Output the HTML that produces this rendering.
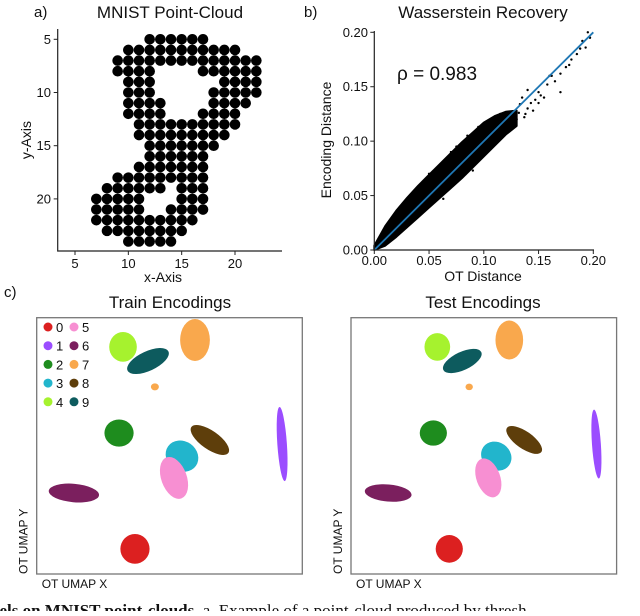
<!DOCTYPE html>
<html><head><meta charset="utf-8"><style>
body{margin:0;background:#fff;width:640px;height:611px;overflow:hidden;font-family:"Liberation Sans",sans-serif}
svg text{font-family:"Liberation Sans",sans-serif;fill:#111}
</style></head><body>
<svg id="fig" width="640" height="611" viewBox="0 0 640 611" xmlns="http://www.w3.org/2000/svg">
<text x="34" y="17" font-size="15">a)</text>
<text x="170" y="18" font-size="17" text-anchor="middle">MNIST Point-Cloud</text>
<text x="304" y="17" font-size="15">b)</text>
<text x="483" y="18" font-size="17" text-anchor="middle">Wasserstein Recovery</text>
<text x="4" y="297" font-size="15">c)</text>
<text x="170" y="308" font-size="17" text-anchor="middle">Train Encodings</text>
<text x="483" y="308" font-size="17" text-anchor="middle">Test Encodings</text>
<g id="pa"></g>
<g id="pb"></g>
<g id="pc"></g>
<text x="-10" y="616" font-size="17" font-family="Liberation Serif" style="font-family:'Liberation Serif',serif"><tspan font-weight="bold">bels on MNIST point-clouds.</tspan> a. Example of a point-cloud produced by thresh</text>
</svg>
<script>
const NS="http://www.w3.org/2000/svg";
function mk(p,t,a){const e=document.createElementNS(NS,t);for(const k in a)e.setAttribute(k,a[k]);p.appendChild(e);return e;}
// ---- Panel a data: rows of the digit point cloud ----
const rowY=[5,6,7,8,9,10,11,12,13,14,15,16,17,18,19,20,21,22,23,24];
const rowRuns=[[[12,17]],[[10,20]],[[9,22]],[[9,12],[17,22]],[[10,12],[19,22]],[[10,12],[18,22]],[[10,13],[18,21]],[[10,13],[17,20]],[[11,20]],[[11,19]],[[12,18]],[[12,17]],[[11,17]],[[9,17]],[[8,13],[15,17]],[[7,11],[15,17]],[[7,11],[14,17]],[[7,16]],[[8,15]],[[10,14]]];
const aTicks=[5,10,15,20];
// ---- Panel b data ----
const bandX=[0,0.01,0.02,0.03,0.04,0.05,0.06,0.07,0.08,0.09,0.10,0.11,0.12,0.13];
const bandUp=[0.004,0.022,0.036,0.048,0.059,0.069,0.079,0.089,0.099,0.108,0.117,0.123,0.127,0.128];
const bandLo=[0,0.004,0.012,0.021,0.030,0.039,0.048,0.057,0.066,0.076,0.086,0.096,0.106,0.114];
const outX=[0.13,0.135,0.14,0.145,0.15,0.155,0.16,0.165,0.17,0.175,0.18,0.185,0.19,0.195,0.197,0.133,0.14,0.158,0.162,0.17,0.15,0.188,0.193,0.178,0.125,0.115,0.063,0.09,0.05,0.035,0.138,0.143,0.147,0.152,0.128,0.132,0.137,0.108,0.095,0.085,0.07,0.028,0.02,0.045,0.075];
const outY=[0.12,0.14,0.13,0.128,0.145,0.14,0.16,0.155,0.145,0.168,0.175,0.18,0.192,0.2,0.195,0.134,0.147,0.152,0.16,0.162,0.135,0.185,0.186,0.17,0.124,0.125,0.047,0.073,0.07,0.05,0.125,0.135,0.138,0.142,0.118,0.126,0.122,0.12,0.113,0.105,0.09,0.038,0.03,0.062,0.095];
const bTicks=[0,0.05,0.10,0.15,0.20];
const bTickLbl=["0.00","0.05","0.10","0.15","0.20"];
// ---- Panel c data: UMAP clusters ----
const digits=[0,1,2,3,4,5,6,7,8,9];
const colors=["#dc2020","#9b4dff","#1e8c1e","#22b5cc","#a6f22e","#f78fd2","#7b1f5e","#f9a84d","#5e3e0b","#0d5b5e"];
const cx=[3.70,9.24,3.10,5.47,3.25,5.17,1.40,5.96,6.52,4.19];
const cy=[0.98,5.07,5.50,4.60,8.86,3.75,3.16,9.13,5.23,8.31];
const crx=[0.55,0.18,0.55,0.64,0.52,0.48,0.95,0.56,0.85,0.85];
const cry=[0.58,1.45,0.53,0.58,0.58,0.85,0.36,0.82,0.36,0.38];
const crot=[0,-4,0,35,0,-20,5,0,35,-25];

// Panel a
const pa=document.getElementById('pa');
const ax=x=>21.67+x*10.667, ay=y=>39.3+(y-5)*10.64;
rowY.forEach((y,i)=>rowRuns[i].forEach(r=>{for(let x=r[0];x<=r[1];x++){
 const c=mk(pa,'circle',{cx:ax(x),cy:ay(y),r:5.3,fill:'#000'});
 
 }}));
mk(pa,'path',{d:`M57.7 29V251H282`,stroke:'#222','stroke-width':1.2,fill:'none'});
aTicks.forEach(t=>{
 mk(pa,'line',{x1:ax(t),x2:ax(t),y1:251,y2:255,stroke:'#222'});
 const l=mk(pa,'text',{x:ax(t),y:268,'font-size':13,'text-anchor':'middle'});l.textContent=t;
 
 mk(pa,'line',{x1:53.7,x2:57.7,y1:ay(t),y2:ay(t),stroke:'#222'});
 const m=mk(pa,'text',{x:51,y:ay(t)+4.5,'font-size':13,'text-anchor':'end'});m.textContent=t;
 
});
let t=mk(pa,'text',{x:163,y:282,'font-size':14,'text-anchor':'middle'});t.textContent='x-Axis';

t=mk(pa,'text',{x:0,y:0,'font-size':14,'text-anchor':'middle',transform:'translate(31,140) rotate(-90)'});t.textContent='y-Axis';


// Panel b
const pb=document.getElementById('pb');
const bx=v=>374.3+v/0.2*219, by=v=>250-v/0.2*217.7;
let d='M'+bandX.map((x,i)=>bx(x)+' '+by(bandUp[i])).join('L');
for(let i=bandX.length-1;i>=0;i--)d+='L'+bx(bandX[i])+' '+by(bandLo[i]);
const band=mk(pb,'path',{d:d+'Z',fill:'#000',stroke:'#000','stroke-width':2,'stroke-linejoin':'round'});

outX.forEach((x,i)=>{const c=mk(pb,'circle',{cx:bx(x),cy:by(outY[i]),r:1.2,fill:'#000'});
 });
const ln=mk(pb,'line',{x1:bx(0),y1:by(0),x2:bx(0.2),y2:by(0.2),stroke:'#1f77b4','stroke-width':1.8});

mk(pb,'path',{d:`M374.3 31V250H594`,stroke:'#222','stroke-width':1.2,fill:'none'});
bTicks.forEach((v,i)=>{
 mk(pb,'line',{x1:bx(v),x2:bx(v),y1:250,y2:254,stroke:'#222'});
 const l=mk(pb,'text',{x:bx(v),y:265,'font-size':13,'text-anchor':'middle'});l.textContent=bTickLbl[i];
 
 mk(pb,'line',{x1:370.3,x2:374.3,y1:by(v),y2:by(v),stroke:'#222'});
 const m=mk(pb,'text',{x:368,y:by(v)+4.5,'font-size':13,'text-anchor':'end'});m.textContent=bTickLbl[i];
 
});
t=mk(pb,'text',{x:483,y:281,'font-size':14,'text-anchor':'middle'});t.textContent='OT Distance';

t=mk(pb,'text',{x:0,y:0,'font-size':14,'text-anchor':'middle',transform:'translate(331,140) rotate(-90)'});t.textContent='Encoding Distance';

t=mk(pb,'text',{x:397,y:80,'font-size':19});t.textContent='ρ = 0.983';


// Panel c
const pc=document.getElementById('pc');
function umap(x0,scale,name){
 const g=mk(pc,'g',{});
 
 mk(g,'rect',{x:x0,y:317.7,width:265.6,height:256.3,fill:'none',stroke:'#777','stroke-width':1.3});
 const ux=v=>x0+v*26.56, uy=v=>574-v*25.63;
 digits.forEach((dg,i)=>{
  const e=mk(g,'ellipse',{cx:ux(cx[i]),cy:uy(cy[i]),rx:crx[i]*26.56*scale,ry:cry[i]*25.63*scale,fill:colors[i],
   transform:`rotate(${crot[i]} ${ux(cx[i])} ${uy(cy[i])})`});
  
 });
 const s=mk(g,'ellipse',{cx:ux(4.45),cy:uy(7.30),rx:4*scale,ry:3.5*scale,fill:colors[7]});
 
 let a=mk(g,'text',{x:x0+5,y:588,'font-size':12});a.textContent='OT UMAP X';
 
 a=mk(g,'text',{x:0,y:0,'font-size':12,transform:`translate(${x0-9},574) rotate(-90)`});a.textContent='OT UMAP Y';
 
}
umap(36.7,1,'train-umap');
umap(351,0.93,'test-umap');
// legend
digits.forEach((dg,i)=>{
 const col=Math.floor(i/5), row=i%5;
 const lx=48+col*26, ly=327+row*18.7;
 const g=mk(pc,'g',{});
 
 mk(g,'circle',{cx:lx,cy:ly,r:4.5,fill:colors[i]});
 const l=mk(g,'text',{x:lx+8,y:ly+5,'font-size':13});l.textContent=dg;
});
</script>
</body></html>
